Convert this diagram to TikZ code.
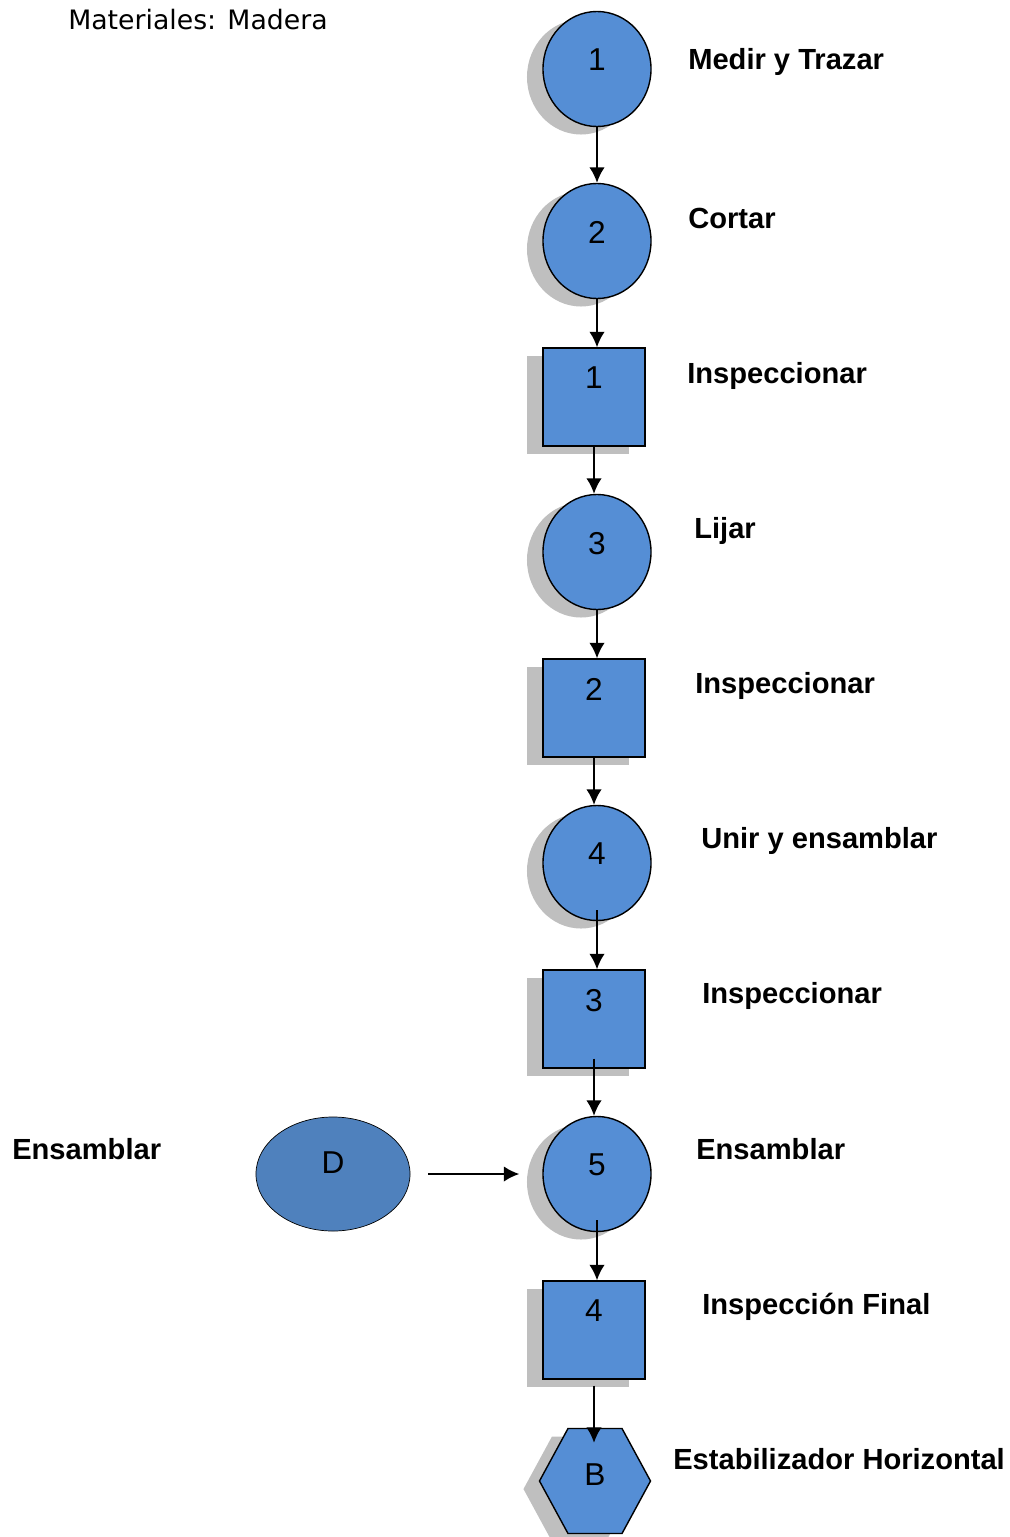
\documentclass[tikz,border=0pt]{standalone}
\usepackage{fontspec}
\setmainfont{Liberation Sans}
\newfontfamily\titulofont{DejaVu Sans}
\usepackage{xcolor}
\usepackage{tikz}
\usetikzlibrary{arrows.meta, shapes.geometric, shapes.symbols, shadows}

\definecolor{azulop}{RGB}{85,142,213}
\definecolor{azulpz}{RGB}{79,129,189}

\begin{document}
\begin{tikzpicture}[x=0.025cm, y=-0.025cm, >={Latex[length=11pt, width=11pt]},
    sombra/.style={drop shadow={shadow xshift=-0.4cm, shadow yshift=-0.2cm,
        fill=black!25, opacity=1}},
    operacion/.style={ellipse, draw, line width=1pt, fill=azulop, sombra,
        minimum width=2.7cm, minimum height=2.875cm, inner sep=0pt,
        text depth=0.45cm, font=\fontsize{22.5}{26}\selectfont},
    inspeccion/.style={rectangle, draw, line width=1pt, fill=azulop, sombra,
        minimum width=2.55cm, minimum height=2.45cm, inner sep=0pt,
        text depth=0.95cm, font=\fontsize{22.5}{26}\selectfont},
    almacen/.style={signal, signal to=east and west, signal pointer angle=123,
        draw, line width=1pt, fill=azulop, sombra,
        minimum width=2.775cm, minimum height=2.625cm, inner sep=0pt,
        text depth=0.3cm, font=\fontsize{22.5}{26}\selectfont},
    pieza/.style={ellipse, draw, line width=0.5pt, fill=azulpz,
        minimum width=3.85cm, minimum height=2.85cm, inner sep=0pt,
        text depth=0.55cm, font=\fontsize{22.5}{26}\selectfont},
    etiqueta/.style={anchor=base west, inner sep=0pt,
        font=\bfseries\fontsize{20.7}{24}\selectfont},
    flecha/.style={->, line width=1.3pt}]
    % Khung hình
    \useasboundingbox (0,0) rectangle (1010,1537);

    % 1. Tiêu đề
    \node[anchor=base west, inner sep=0pt, font=\titulofont\fontsize{19}{22}\selectfont]
        (titulo) at (68,30) {Materiales: Madera};

    % 2. Các bước (tròn: thao tác, vuông: kiểm tra)
    \node[operacion] (op1) at (597,69) {1};
    \node[operacion] (op2) at (597,241) {2};
    \node[inspeccion] (in1) at (594,397) {1};
    \node[operacion] (op3) at (597,552) {3};
    \node[inspeccion] (in2) at (594,708) {2};
    \node[operacion] (op4) at (597,863) {4};
    \node[inspeccion] (in3) at (594,1019) {3};
    \node[operacion] (op5) at (597,1174) {5};
    \node[inspeccion] (in4) at (594,1330) {4};
    \node[almacen] (alm) at (595,1481) {B};
    \node[pieza] (pzD) at (333,1174) {D};

    % 3. Mũi tên nối các bước
    \draw[flecha] (op1) -- (op1 |- op2.north);
    \draw[flecha] (op2) -- (op2 |- in1.north);
    \draw[flecha] (in1) -- (in1 |- op3.north);
    \draw[flecha] (op3) -- (op3 |- in2.north);
    \draw[flecha] (in2) -- (in2 |- op4.north);
    \draw[flecha, shorten <=-0.275cm] (op4.south) -- (op4.south |- in3.north);
    \draw[flecha, shorten <=-0.25cm] (in3.south) -- (in3.south |- op5.north);
    \draw[flecha, shorten <=-0.3cm] (op5.south) -- (op5.south |- in4.north);
    \draw[flecha, shorten <=0.15cm, shorten >=-0.375cm] (in4.south) -- (in4.south |- alm.north);
    \draw[flecha, shorten <=0.45cm, shorten >=0.575cm] (pzD) -- (op5);

    % 4. Nhãn
    \node[etiqueta] (e1) at (688,70) {Medir y Trazar};
    \node[etiqueta] (e2) at (688,228) {Cortar};
    \node[etiqueta] (e3) at (687,383) {Inspeccionar};
    \node[etiqueta] (e4) at (694,538) {Lijar};
    \node[etiqueta] (e5) at (695,693) {Inspeccionar};
    \node[etiqueta] (e6) at (701,848) {Unir y ensamblar};
    \node[etiqueta] (e7) at (702,1003) {Inspeccionar};
    \node[etiqueta] (e8) at (696,1159) {Ensamblar};
    \node[etiqueta] (e9) at (702,1314) {Inspección Final};
    \node[etiqueta] (e10) at (673,1469) {Estabilizador Horizontal};
    \node[etiqueta] (e11) at (12,1159) {Ensamblar};
\end{tikzpicture}
\end{document}
